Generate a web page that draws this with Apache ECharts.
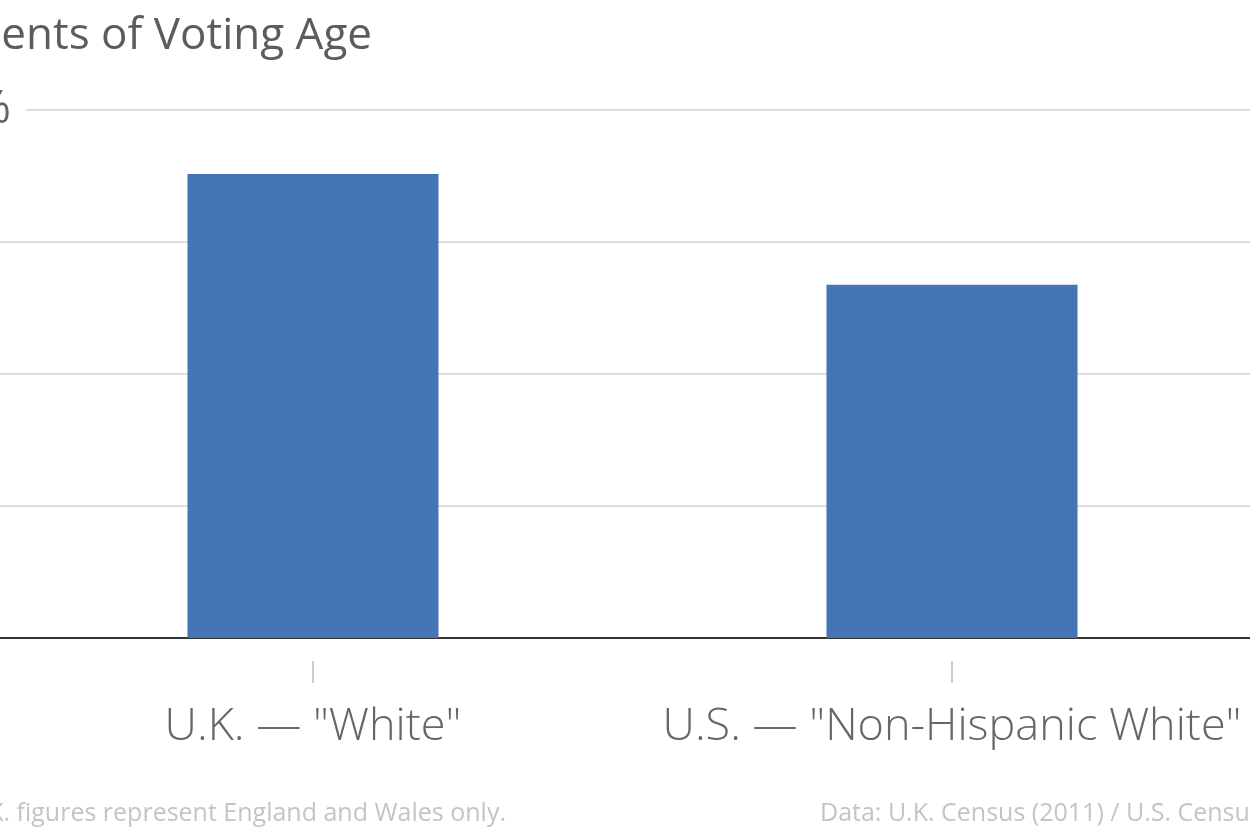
<!DOCTYPE html>
<html>
<head>
<meta charset="utf-8">
<script src="https://cdn.jsdelivr.net/npm/echarts@6/dist/echarts.min.js"></script>
<style>
  html, body { margin: 0; padding: 0; background: #fff; }
  #chart { width: 1250px; height: 830px; }
</style>
</head>
<body>
<div id="chart"></div>
<script>
const titleText = 'Percentage of Residents of Voting Age';
const categories = ['U.K. — "White"', 'U.S. — "Non-Hispanic White"'];
const values = [87.9, 66.9];
const yTicks = [0, 25, 50, 75, 100];
const noteText = 'Note: U.K. figures represent England and Wales only.';
const sourceText = 'Data: U.K. Census (2011) / U.S. Census (2010)';

const FONT = '"Open Sans", "DejaVu Sans", sans-serif';
const chart = echarts.init(document.getElementById('chart'), null, { renderer: 'canvas' });

chart.setOption({
  animation: false,
  backgroundColor: '#ffffff',
  textStyle: { fontFamily: FONT },
  title: {
    text: titleText,
    right: 878,
    top: 14,
    padding: 0,
    textStyle: { fontFamily: FONT, fontSize: 44, fontWeight: 'normal', color: '#5c5c5c' }
  },
  graphic: [
    { type: 'text', x: 506, y: 801, style: { text: noteText, align: 'right', fontFamily: FONT, fontSize: 25, fill: '#c4c4c4' } },
    { type: 'text', x: 820, y: 801, style: { text: sourceText, align: 'left', fontFamily: FONT, fontSize: 25, fill: '#c4c4c4' } }
  ],
  grid: {
    left: -6.5, right: -21.5, top: 110, bottom: 192,
    containLabel: false, outerBoundsMode: 'none'
  },
  xAxis: [
    {
      type: 'category', data: categories, gridIndex: 0, position: 'bottom',
      axisLine: { show: true, lineStyle: { color: '#333333', width: 2 } },
      axisTick: { show: false }, axisLabel: { show: false }, splitLine: { show: false }
    },
    {
      type: 'category', data: categories, gridIndex: 0, position: 'bottom', offset: 23,
      axisLine: { show: false },
      axisTick: { show: true, alignWithLabel: true, length: 22, lineStyle: { color: '#cccccc', width: 2 } },
      axisLabel: { show: true, interval: 0, hideOverlap: false, margin: 44, fontFamily: FONT, fontSize: 45, fontWeight: 300, color: '#666666' },
      splitLine: { show: false }
    }
  ],
  yAxis: {
    type: 'value', min: yTicks[0], max: yTicks[yTicks.length - 1], interval: yTicks[1] - yTicks[0],
    axisLine: { show: false }, axisTick: { show: false },
    splitLine: { show: true, lineStyle: { color: '#dddddd', width: 2 } },
    axisLabel: {
      align: 'left', margin: 97, fontFamily: FONT, fontSize: 45, color: '#666666',
      backgroundColor: '#ffffff', padding: [0, 15, 0, 0],
      formatter: v => v === yTicks[yTicks.length - 1] ? v + '%' : String(v)
    }
  },
  series: [{
    type: 'bar', xAxisIndex: 0, yAxisIndex: 0,
    data: values, barWidth: 251,
    itemStyle: { color: '#4575b5' }
  }]
});
</script>
</body>
</html>
